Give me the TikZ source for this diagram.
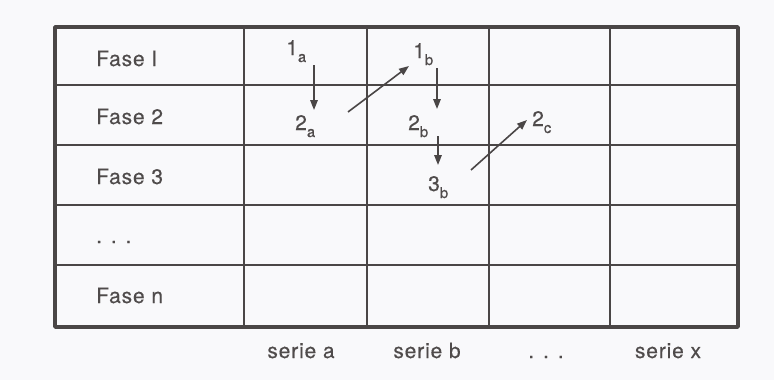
\documentclass[tikz,border=0pt]{standalone}
\usepackage{fontspec}
\setmainfont{TeX Gyre Heros}[LetterSpace=4, FakeBold=0.4]
\usetikzlibrary{arrows.meta}
\definecolor{ink}{HTML}{4A4646}
\definecolor{txt}{HTML}{4F4B4B}
\definecolor{paper}{HTML}{F9F9FB}
\newcommand\subx[1]{\raisebox{-7pt}{\fontsize{15}{15}\selectfont #1}}
\tikzset{
  grid/.style={draw=ink, line width=1.7pt},
  frame/.style={draw=ink, line width=3.8pt, line join=round},
  lbl/.style={text=txt, inner sep=0pt, font=\fontsize{21}{23}\selectfont},
  arr/.style={draw=ink, line width=1.6pt, -{Triangle[length=10pt,width=7.5pt]}}
}
\begin{document}
\begin{tikzpicture}[x=1pt,y=-1pt]
\fill[paper] (0,0) rectangle (774,380);
\useasboundingbox (0,0) rectangle (774,380);
% grid
\foreach \yy in {85,145,205,265} \draw[grid] (55,\yy) -- (738,\yy);
\foreach \xx in {244,367,489,610} \draw[grid] (\xx,27) -- (\xx,327);
\draw[frame] (55,27) rectangle (738,327);
% row labels
\node[lbl, anchor=base west] (f1) at (96,66) {Fase I};
\node[lbl, anchor=base west] (f2) at (96,124) {Fase 2};
\node[lbl, anchor=base west] (f3) at (96,184) {Fase 3};
\node[lbl, anchor=base west] (fd) at (96,243) {. . .};
\node[lbl, anchor=base west] (fn) at (96,303) {Fase n};
% column labels
\node[lbl, anchor=base] (sa) at (301,358) {serie a};
\node[lbl, anchor=base] (sb) at (427,358) {serie b};
\node[lbl, anchor=base] (sd) at (546,358) {. . .};
\node[lbl, anchor=base] (sx) at (668,358) {serie x};
% cell entries
\node[lbl, anchor=base west] (a1) at (286,55) {1\subx{a}};
\node[lbl, anchor=base west] (a2) at (295,130) {2\subx{a}};
\node[lbl, anchor=base west] (b1) at (413,58) {1\subx{b}};
\node[lbl, anchor=base west] (b2) at (408,130) {2\subx{b}};
\node[lbl, anchor=base west] (b3) at (428,191) {3\subx{b}};
\node[lbl, anchor=base west] (c2) at (532,126) {2\subx{c}};
% arrow end points
\coordinate (p1) at (314,65);  \coordinate (q1) at (314,110);
\coordinate (p2) at (348,112); \coordinate (q2) at (409,66);
\coordinate (p3) at (437,68);  \coordinate (q3) at (437,109);
\coordinate (p4) at (438,136); \coordinate (q4) at (438,165);
\coordinate (p5) at (471,170); \coordinate (q5) at (527,120);
\draw[arr] (p1) -- (q1);
\draw[arr] (p2) -- (q2);
\draw[arr] (p3) -- (q3);
\draw[arr] (p4) -- (q4);
\draw[arr] (p5) -- (q5);
\end{tikzpicture}
\end{document}
